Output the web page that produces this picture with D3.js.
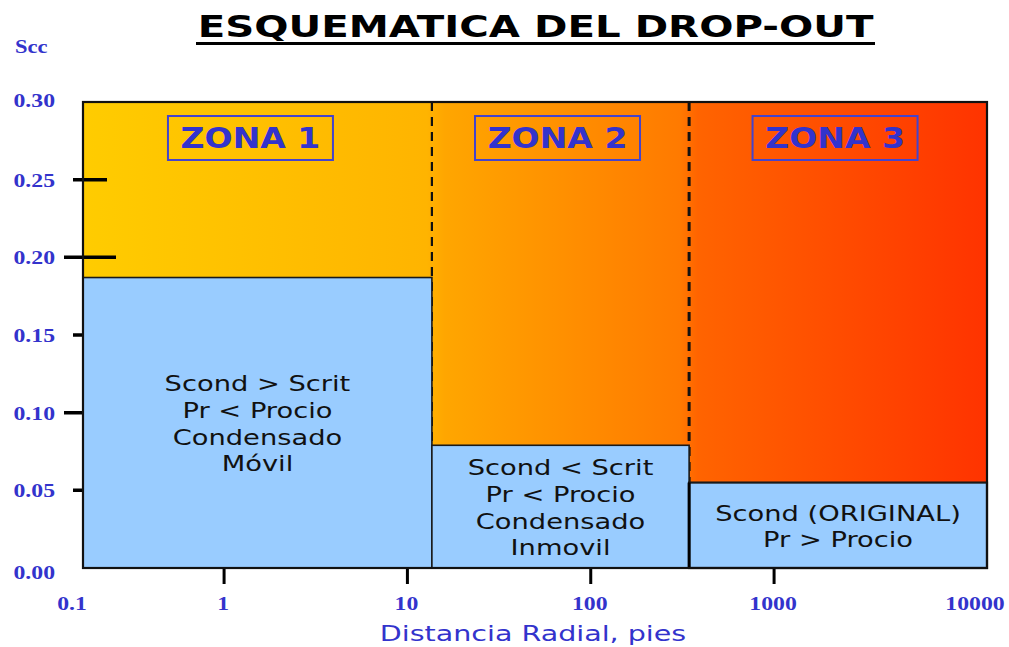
<!DOCTYPE html>
<html>
<head>
<meta charset="utf-8">
<script src="https://cdn.jsdelivr.net/npm/d3@7"></script>
<style>
  html, body { margin: 0; padding: 0; background: #ffffff; }
  svg { display: block; }
</style>
</head>
<body>
<div id="chart"></div>
<script>
// ---------------- DATA ----------------
const chartTitle = "ESQUEMATICA DEL DROP-OUT";
const yAxisTitle = "Scc";
const xAxisTitle = "Distancia Radial, pies";

// x (radial distance, ft, log) visible span and zone boundaries
const xDomain = [0.17, 14500];
const zoneNames = ["ZONA 1", "ZONA 2", "ZONA 3"];
const zoneStart = [0.17, 13.6, 344];
const zoneEnd = [13.6, 344, 14500];
// condensate saturation level in each zone
const sccValues = [0.187, 0.079, 0.055];
const zoneText = [
  ["Scond > Scrit", "Pr < Procio", "Condensado", "Móvil"],
  ["Scond < Scrit", "Pr < Procio", "Condensado", "Inmovil"],
  ["Scond (ORIGINAL)", "Pr > Procio"]
];

const xTickValues = [1, 10, 100, 1000];
const xTickLabels = ["1", "10", "100", "1000"];
const xEndLabels = ["0.1", "10000"];

const yDomain = [0, 0.30];
const yLabelValues = [0, 0.05, 0.10, 0.15, 0.20, 0.25, 0.30];
const yTickValues = [0.05, 0.10, 0.15, 0.20, 0.25];
const yMajorTicks = [0.10, 0.20];

const gradientColors = ["#FFCC00", "#FFB400", "#FFA600", "#FF7A00", "#FF6400", "#FF3300"];
const gradientStops = [0, 0.38, 0.40, 0.66, 0.68, 1];

// ---------------- LAYOUT ----------------
const W = 1009, H = 647;
const P = { left: 83, right: 987, top: 102, bottom: 568 };
const BLUE = "#99CCFF";
const TEXTBLUE = "#3333CC";

const svg = d3.select("#chart").append("svg")
  .attr("width", W).attr("height", H)
  .style("background", "#fff");

const x = d3.scaleLog().domain(xDomain).range([P.left, P.right]);
const y = d3.scaleLinear().domain(yDomain).range([P.bottom, P.top]);

// stretched text helper
function stext(parent, px, py, str, o) {
  const g = parent.append("g")
    .attr("transform", `translate(${px},${py}) scale(${o.sx || 1},1)`);
  return g.append("text")
    .attr("x", 0).attr("y", 0)
    .attr("text-anchor", o.anchor || "middle")
    .attr("dy", o.dy || "0.36em")
    .attr("font-family", o.family || "DejaVu Sans, Verdana, sans-serif")
    .attr("font-size", o.size || 16)
    .attr("font-weight", o.weight || "normal")
    .attr("fill", o.fill || "#000")
    .text(str);
}

// gradient
const defs = svg.append("defs");
const grad = defs.append("linearGradient").attr("id", "zoneGrad")
  .attr("x1", "0%").attr("x2", "100%").attr("y1", "0%").attr("y2", "0%");
gradientColors.forEach((c, i) => {
  grad.append("stop").attr("offset", gradientStops[i]).attr("stop-color", c);
});

svg.append("rect")
  .attr("x", x(xDomain[0])).attr("y", y(yDomain[1]))
  .attr("width", x(xDomain[1]) - x(xDomain[0]))
  .attr("height", y(yDomain[0]) - y(yDomain[1]))
  .attr("fill", "url(#zoneGrad)");

// dashed zone boundaries
svg.selectAll(".zline").data(zoneStart.slice(1)).enter().append("line")
  .attr("x1", d => x(d)).attr("x2", d => x(d))
  .attr("y1", y(yDomain[1])).attr("y2", y(yDomain[0]))
  .attr("stroke", "#111").attr("stroke-width", (d, i) => i === 0 ? 2.2 : 3)
  .attr("stroke-dasharray", "9,6");

// y ticks (drawn under the blue boxes, extending into the plot)
svg.selectAll(".ytick").data(yTickValues).enter().append("line")
  .attr("x1", d => P.left - (yMajorTicks.includes(d) ? 19 : 10))
  .attr("x2", d => P.left + (yMajorTicks.includes(d) ? 33 : 24))
  .attr("y1", d => y(d)).attr("y2", d => y(d))
  .attr("stroke", "#000").attr("stroke-width", 3.5);

// blue saturation boxes
svg.selectAll(".sbox").data(sccValues).enter().append("rect")
  .attr("x", (d, i) => x(zoneStart[i]))
  .attr("y", d => y(d))
  .attr("width", (d, i) => x(zoneEnd[i]) - x(zoneStart[i]))
  .attr("height", d => y(0) - y(d))
  .attr("fill", BLUE)
  .attr("stroke", "#1a1a1a").attr("stroke-width", (d, i) => i === 2 ? 2.2 : 1.6);

// thick separator between zone 2 and 3 boxes
svg.append("line")
  .attr("x1", x(zoneStart[2])).attr("x2", x(zoneStart[2]))
  .attr("y1", y(sccValues[2])).attr("y2", y(0))
  .attr("stroke", "#000").attr("stroke-width", 3);

// plot outline
svg.append("rect")
  .attr("x", P.left).attr("y", P.top)
  .attr("width", P.right - P.left).attr("height", P.bottom - P.top)
  .attr("fill", "none").attr("stroke", "#111").attr("stroke-width", 2.2);

// zone labels
zoneNames.forEach((name, i) => {
  const cx = (x(zoneStart[i]) + x(zoneEnd[i])) / 2 - (i === 0 ? 7 : 3);
  const cy = 138;
  svg.append("rect")
    .attr("x", cx - 82.5).attr("y", cy - 22)
    .attr("width", 165).attr("height", 44)
    .attr("fill", "none").attr("stroke", "#4444CC").attr("stroke-width", 2);
  stext(svg, cx, cy, name, {
    size: 28, weight: "bold", fill: TEXTBLUE, sx: 1.18,
    family: "DejaVu Sans, Verdana, sans-serif"
  });
});

// box texts
zoneText.forEach((lines, i) => {
  const cx = (x(zoneStart[i]) + x(zoneEnd[i])) / 2;
  const cy = (y(sccValues[i]) + y(0)) / 2 + 1;
  const lh = 26.6;
  lines.forEach((ln, j) => {
    stext(svg, cx, cy + (j - (lines.length - 1) / 2) * lh, ln, {
      size: 21, fill: "#111", sx: 1.3
    });
  });
});

// x ticks
svg.selectAll(".xtick").data(xTickValues).enter().append("line")
  .attr("x1", d => x(d)).attr("x2", d => x(d))
  .attr("y1", P.bottom + 1).attr("y2", P.bottom + 16)
  .attr("stroke", "#000").attr("stroke-width", 3);

const serifOpts = { size: 19, weight: "bold", fill: TEXTBLUE, sx: 1.25,
  family: "Liberation Serif, Times New Roman, serif" };

xTickValues.forEach((v, i) => {
  stext(svg, x(v) - 1, 603, xTickLabels[i], serifOpts);
});
stext(svg, x(xDomain[0]) - 11, 603, xEndLabels[0], serifOpts);
stext(svg, x(xDomain[1]) - 12, 603, xEndLabels[1], serifOpts);

// y labels
yLabelValues.forEach(v => {
  const off = v === 0 ? 4 : (v === 0.30 ? -2 : 0);
  stext(svg, 55, y(v) + off, d3.format(".2f")(v), Object.assign({}, serifOpts, { anchor: "end" }));
});

// y axis title
stext(svg, 15, 47, yAxisTitle, Object.assign({}, serifOpts, { anchor: "start", size: 18 }));

// x axis title
stext(svg, 533, 633, xAxisTitle, { size: 21, fill: TEXTBLUE, sx: 1.36 });

// title
stext(svg, 535.5, 26, chartTitle, { size: 31, weight: "bold", fill: "#000", sx: 1.3 });
svg.append("line")
  .attr("x1", 196).attr("x2", 875).attr("y1", 43.5).attr("y2", 43.5)
  .attr("stroke", "#000").attr("stroke-width", 3);
</script>
</body>
</html>
